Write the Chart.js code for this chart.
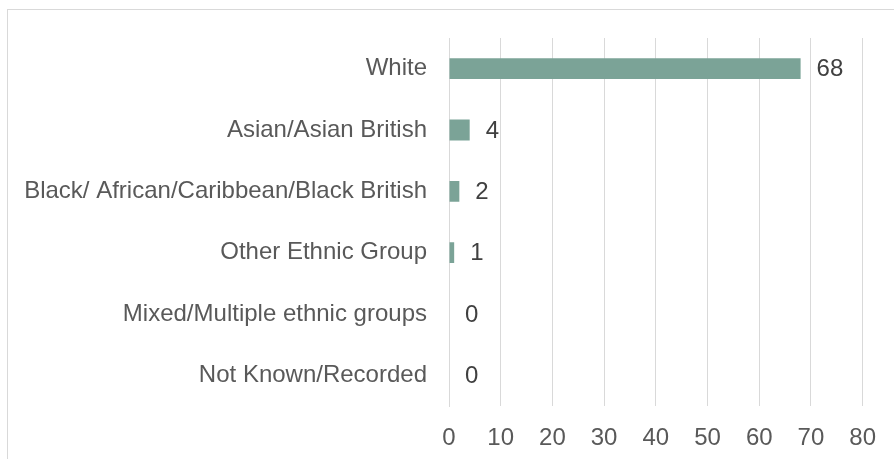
<!DOCTYPE html>
<html lang="en">
<head>
<meta charset="UTF-8">
<title>Ethnicity</title>
<style>
  html, body { margin: 0; padding: 0; background: #fff; overflow: hidden; }
  .frame { position: absolute; left: 7px; top: 9px; width: 1000px; height: 600px;
           border-left: 1px solid #d9d9d9; border-top: 1px solid #d9d9d9; }
  .wrap { position: absolute; left: 0; top: 0; width: 894px; height: 459px; }
</style>
</head>
<body>
<div class="frame"></div>
<div class="wrap"><canvas id="ethChart" width="894" height="459"></canvas></div>
<script src="https://cdn.jsdelivr.net/npm/chart.js"></script>
<script>
  const categories = ['White', 'Asian/Asian British', 'Black/ African/Caribbean/Black British',
                      'Other Ethnic Group', 'Mixed/Multiple ethnic groups', 'Not Known/Recorded'];
  const counts = [68, 4, 2, 1, 0, 0];
  const xTicks = [0, 10, 20, 30, 40, 50, 60, 70, 80];

  const FONT = "'Liberation Sans', Arial, sans-serif";
  const FONT_SIZE = 24;

  // draws the value just right of each bar
  const valueLabels = {
    id: 'valueLabels',
    afterDatasetsDraw(chart) {
      const ctx = chart.ctx;
      const meta = chart.getDatasetMeta(0);
      ctx.save();
      ctx.font = FONT_SIZE + 'px ' + FONT;
      ctx.fillStyle = '#404040';
      ctx.textAlign = 'left';
      ctx.textBaseline = 'middle';
      meta.data.forEach(function (bar, i) {
        ctx.fillText(String(counts[i]), bar.x + 16, bar.y + 1);
      });
      ctx.restore();
    }
  };

  const ctx = document.getElementById('ethChart').getContext('2d');
  const ethChart = new Chart(ctx, {
    type: 'bar',
    data: {
      labels: categories,
      datasets: [{
        data: counts,
        backgroundColor: '#7ba397',
        barPercentage: 0.34,
        categoryPercentage: 1
      }]
    },
    options: {
      indexAxis: 'y',
      responsive: false,
      maintainAspectRatio: false,
      animation: false,
      devicePixelRatio: 1,
      layout: { padding: { top: 38, right: 30, left: 0, bottom: 0 } },
      plugins: { legend: { display: false }, tooltip: { enabled: false } },
      scales: {
        x: {
          min: 0, max: 80,
          afterBuildTicks(scale) { scale.ticks = xTicks.map(v => ({ value: v })); },
          afterFit(scale) { scale.height = 53; },
          grid: { color: '#d9d9d9', drawTicks: false, tickLength: 0 },
          border: { display: false },
          ticks: { color: '#595959', padding: 18, font: { family: FONT, size: FONT_SIZE } }
        },
        y: {
          afterFit(scale) { scale.width = 449; },
          grid: { display: false, drawTicks: false, tickLength: 0 },
          border: { display: true, color: '#d9d9d9', width: 1 },
          ticks: { color: '#595959', padding: 22, font: { family: FONT, size: FONT_SIZE } }
        }
      }
    },
    plugins: [valueLabels]
  });
</script>
</body>
</html>
